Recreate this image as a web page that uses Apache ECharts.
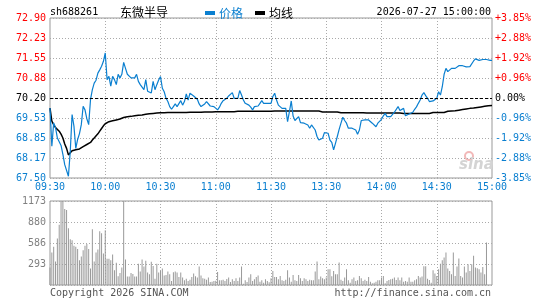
<!DOCTYPE html>
<html><head><meta charset="utf-8">
<script src="https://cdn.jsdelivr.net/npm/echarts@6/dist/echarts.min.js"></script>
<style>html,body{margin:0;padding:0;background:#fff}#c{width:545px;height:300px}</style>
</head><body><div id="c"></div>
<script>
const priceTicks = ['67.50','68.17','68.85','69.53','70.20','70.88','71.55','72.23','72.90'];
const pctTicks = ['-3.85%','-2.88%','-1.92%','-0.96%','0.00%','+0.96%','+1.92%','+2.88%','+3.85%'];
const volTicks = ['','293','586','880','1173'];
const timeTicks = ['09:30','10:00','10:30','11:00','11:30','13:30','14:00','14:30','15:00'];

const price = [
69.86,68.57,69.36,69.20,68.85,68.91,68.60,68.30,67.95,67.90,
67.56,68.40,69.64,69.25,68.50,68.80,69.00,69.30,69.92,69.80,
69.50,69.30,70.15,70.48,70.70,70.80,71.04,71.15,71.27,71.44,
71.72,70.82,70.93,70.60,70.93,70.82,70.65,71.00,70.88,71.00,
71.40,71.20,71.00,71.04,70.88,70.82,70.88,71.00,70.76,70.65,
70.59,70.48,70.82,70.43,70.48,70.37,70.76,70.48,70.65,
70.81,70.92,70.53,70.41,70.19,70.08,69.91,69.82,69.91,70.00,
69.91,69.91,70.11,69.96,70.08,70.34,70.13,70.36,70.30,70.27,
70.25,70.16,70.00,69.91,69.85,70.00,70.08,70.02,69.93,69.91,
69.91,69.91,69.80,69.89,70.02,70.11,70.13,70.19,70.27,70.30,
70.38,70.19,70.19,70.19,70.45,70.30,70.13,70.02,70.02,69.96,
69.89,69.80,69.91,69.93,69.93,70.02,70.11,70.02,70.02,70.02,
70.02,70.02,
70.25,70.36,70.13,69.96,69.91,69.85,69.91,69.85,69.40,69.74,
70.10,69.59,69.44,69.40,69.57,69.37,69.40,69.35,69.32,69.29,
69.18,69.29,69.26,69.12,68.90,68.78,68.81,68.84,69.03,69.01,
69.01,68.78,68.70,68.45,68.67,68.90,69.14,69.35,69.55,69.44,
69.35,69.18,69.14,69.18,69.14,69.12,68.98,69.12,69.44,69.48,
69.46,69.44,69.46,69.40,69.35,69.29,69.23,69.35,69.40,69.48,
69.60,
69.68,69.57,69.54,69.57,69.63,69.72,69.78,69.91,69.78,69.74,
69.85,69.60,69.63,69.66,69.68,69.72,69.82,69.90,70.02,70.13,
70.30,70.38,70.28,70.19,70.08,70.13,70.10,70.16,70.19,70.41,
70.30,70.58,71.00,71.20,71.09,71.12,71.20,71.15,71.20,71.26,
71.29,71.31,71.29,71.27,71.25,71.22,71.26,71.31,71.45,71.52,
71.48,71.47,71.47,71.50,71.53,71.50,71.47,71.47,71.47
];

const avg = [
69.86,69.42,69.30,69.20,69.15,69.08,68.98,68.85,68.65,68.50,
68.28,68.35,68.42,68.45,68.45,68.46,68.48,68.52,68.56,68.60,
68.63,68.65,68.70,68.78,68.85,68.90,68.99,69.08,69.17,69.26,
69.33,69.37,69.40,69.42,69.43,69.45,69.46,69.48,69.49,69.51,
69.54,69.56,69.57,69.58,69.58,69.59,69.60,69.61,69.62,69.63,
69.63,69.64,69.65,69.66,69.67,69.68,69.68,69.69,69.69,
69.69,69.70,69.70,69.70,69.71,69.71,69.71,69.71,69.71,69.71,
69.71,69.71,69.71,69.71,69.71,69.71,69.71,69.72,69.72,69.72,
69.72,69.72,69.72,69.72,69.72,69.73,69.73,69.73,69.73,69.73,
69.73,69.74,69.74,69.74,69.74,69.74,69.74,69.74,69.74,69.74,
69.74,69.74,69.74,69.75,69.75,69.75,69.75,69.75,69.75,69.75,
69.75,69.75,69.75,69.75,69.75,69.75,69.75,69.75,69.75,69.75,
69.75,69.75,
69.76,69.76,69.76,69.76,69.76,69.76,69.76,69.76,69.76,69.76,
69.76,69.76,69.76,69.76,69.76,69.76,69.76,69.76,69.76,69.76,
69.76,69.76,69.76,69.76,69.76,69.76,69.76,
69.73,69.73,69.73,69.73,69.73,69.73,69.73,69.73,69.73,
69.70,69.70,69.70,69.70,69.70,69.70,69.70,69.70,69.70,69.70,
69.70,69.70,69.70,69.70,
69.69,69.69,69.69,69.69,69.69,69.69,69.69,69.69,69.69,69.69,
69.69,69.69,69.69,69.69,69.69,69.69,69.69,69.69,69.69,69.69,
69.68,69.68,69.68,69.68,69.68,69.68,69.68,69.68,69.68,69.68,
69.68,69.68,69.68,69.68,69.68,69.68,69.68,
69.71,69.71,69.71,69.71,69.71,69.71,69.71,
69.74,69.75,69.75,69.76,69.76,69.77,69.78,69.79,69.80,69.81,
69.82,69.83,69.84,69.85,69.86,69.86,69.87,69.88,69.89,69.90,
69.91,69.92,69.93,69.94,69.94,69.95
];

const volume = [
243,454,534,328,651,843,1173,1173,1063,1049,
791,640,625,548,534,501,347,398,487,548,
571,501,229,777,328,454,496,749,721,440,
763,365,365,347,426,206,309,122,169,243,
1173,356,117,117,169,155,117,117,295,187,
356,258,337,173,150,323,267,89,295,173,
197,229,131,140,187,150,56,178,187,173,
112,173,103,66,89,56,75,112,159,122,
103,258,131,94,89,75,103,42,47,56,
61,183,66,66,75,56,84,103,42,80,
56,94,56,103,258,19,66,42,103,150,
56,80,112,131,47,66,33,80,56,37,
94,
197,112,112,80,126,66,56,75,206,103,
47,140,66,56,140,94,56,94,80,56,
75,66,66,187,328,80,117,94,80,103,
220,220,122,197,150,150,314,75,56,103,
220,66,33,80,103,56,66,126,94,56,
75,56,112,47,23,33,47,66,66,103,
126,23,56,70,80,89,103,70,103,66,
103,47,56,47,103,47,47,66,80,126,
103,117,262,262,89,70,33,206,159,126,
220,295,347,384,454,229,197,150,454,126,
258,370,126,103,258,173,290,197,290,407,
243,234,220,173,253,150,595,0,0,0
];

function fmt(m){const h=Math.floor(m/60),mm=m%60;return (h<10?'0':'')+h+':'+(mm<10?'0':'')+mm;}
const minutes=[];
for(let m=570;m<=690;m++) minutes.push(fmt(m));
for(let m=781;m<=900;m++) minutes.push(fmt(m));

const RED='#ff0000', BLUE='#0a7fd0', BLACK='#000000';
const MONO='DejaVu Sans Mono';
const CJK='Noto Sans CJK SC';
function upDownColor(idx){return idx>4?RED:(idx<4?BLUE:BLACK);}
const pIdx=v=>Math.round((v-67.5)/0.675);

const chart=echarts.init(document.getElementById('c'),null,{renderer:'canvas'});
const grayDot={color:'#aaaaaa',type:[1,2],width:1};
chart.setOption({
  animation:false,
  backgroundColor:'#ffffff',
  legend:{
    left:200, top:2, itemWidth:10, itemHeight:4, itemGap:12, icon:'rect',
    textStyle:{fontSize:12,fontFamily:CJK,padding:[0,0,0,-1]},
    data:[{name:'价格',textStyle:{color:BLUE}},{name:'均线',textStyle:{color:BLACK}}]
  },
  grid:[
    {left:50,top:18,width:442,height:160,show:true,borderColor:'#999',borderWidth:1,containLabel:false},
    {left:50,top:201,width:442,height:84,show:true,borderColor:'#999',borderWidth:1,containLabel:false}
  ],
  xAxis:[
    {type:'category',gridIndex:0,data:minutes,boundaryGap:false,
     axisLine:{show:false},axisTick:{show:false},
     axisLabel:{interval:(i)=>i%30===0,margin:4,color:BLUE,fontSize:10,fontFamily:MONO,
       formatter:(v,i)=>timeTicks[Math.round(i/30)]},
     splitLine:{show:true,interval:(i)=>i%30===0&&i>0&&i<240,lineStyle:grayDot}},
    {type:'category',gridIndex:1,data:minutes,boundaryGap:false,
     axisLine:{show:false},axisTick:{show:false},axisLabel:{show:false},
     splitLine:{show:true,interval:(i)=>i%30===0&&i>0&&i<240,lineStyle:grayDot}}
  ],
  yAxis:[
    {type:'value',gridIndex:0,min:67.5,max:72.9,interval:0.675,position:'left',
     axisLine:{show:false},axisTick:{show:false},
     axisLabel:{margin:4,fontSize:10,fontFamily:MONO,
       formatter:v=>priceTicks[pIdx(v)],
       color:v=>upDownColor(pIdx(v))},
     splitLine:{show:true,lineStyle:grayDot}},
    {type:'value',gridIndex:0,min:67.5,max:72.9,interval:0.675,position:'right',
     axisLine:{show:false},axisTick:{show:false},
     axisLabel:{margin:3,fontSize:10,fontFamily:MONO,
       formatter:v=>pctTicks[pIdx(v)],
       color:v=>upDownColor(pIdx(v))},
     splitLine:{show:false}},
    {type:'value',gridIndex:1,min:0,max:1173,interval:293.25,position:'left',
     axisLine:{show:false},axisTick:{show:false},
     axisLabel:{margin:4,fontSize:10,fontFamily:MONO,color:'#808080',
       formatter:v=>volTicks[Math.round(v/293.25)]},
     splitLine:{show:true,lineStyle:grayDot}}
  ],
  series:[
    {name:'价格',type:'line',xAxisIndex:0,yAxisIndex:0,data:price,symbol:'none',
     lineStyle:{color:BLUE,width:1.2},itemStyle:{color:BLUE},z:3,
     markLine:{silent:true,symbol:['none','none'],label:{show:false},
       lineStyle:{color:'#000',type:[3,2],width:1},data:[{yAxis:70.20}]}},
    {name:'均线',type:'line',xAxisIndex:0,yAxisIndex:0,data:avg,symbol:'none',
     lineStyle:{color:BLACK,width:1.5},itemStyle:{color:BLACK},z:2},
    {name:'成交量',type:'bar',xAxisIndex:1,yAxisIndex:2,data:volume,barWidth:1,
     itemStyle:{color:'#999999'},emphasis:{disabled:true}}
  ],
  graphic:[
    {type:'text',x:50,y:12,style:{text:'sh688261',fontSize:10,fontFamily:MONO,fill:'#000',verticalAlign:'middle'}},
    {type:'text',x:120,y:12,style:{text:'东微半导',fontSize:12,fontFamily:CJK,fill:'#000',verticalAlign:'middle'}},
    {type:'text',x:491,y:12,style:{text:'2026-07-27 15:00:00',fontSize:10,fontFamily:MONO,fill:'#000',align:'right',verticalAlign:'middle'}},
    {type:'text',x:50,y:293,style:{text:'Copyright 2026 SINA.COM',fontSize:10,fontFamily:MONO,fill:'#555',verticalAlign:'middle'}},
    {type:'text',x:491,y:293,style:{text:'http://finance.sina.com.cn',fontSize:10,fontFamily:MONO,fill:'#555',align:'right',verticalAlign:'middle'}},
    {type:'circle',shape:{cx:469,cy:156,r:4},style:{fill:'none',stroke:'#f2b8b8',lineWidth:2}},
    {type:'text',x:459,y:165,style:{text:'sina',fontSize:15,fontStyle:'italic',fontWeight:'bold',fontFamily:'DejaVu Sans',fill:'#d4d4d4',verticalAlign:'middle'}}
  ]
});
</script></body></html>
